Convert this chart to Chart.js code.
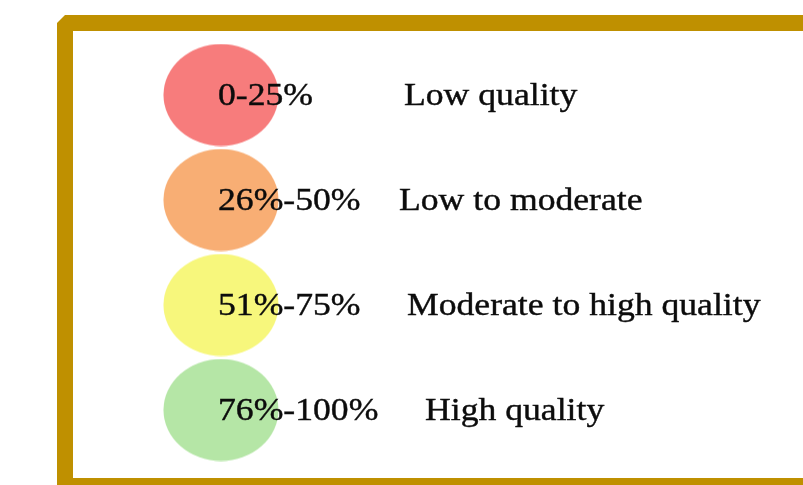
<!DOCTYPE html>
<html>
<head>
<meta charset="utf-8">
<script src="https://cdn.jsdelivr.net/npm/chart.js@4/dist/chart.umd.min.js"></script>
<style>
  html, body { margin: 0; padding: 0; background: #ffffff; }
  #wrap { width: 803px; height: 485px; position: relative; }
</style>
</head>
<body>
<div id="wrap"><canvas id="c" width="803" height="485"></canvas></div>
<script>
// ---- data ----
const ranges = ["0-25%", "26%-50%", "51%-75%", "76%-100%"];
const qualityLabels = ["Low quality", "Low to moderate", "Moderate to high quality", "High quality"];
const rowIndex = [0, 1, 2, 3];
const colors = ["#F77C7C", "#F8AE74", "#F7F77C", "#B5E6A6"];

// ---- layout constants (not data) ----
const ELL_W = 116, ELL_H = 103;
const FONT = '31px "Liberation Serif", "Times New Roman", serif';
const STRETCH = 1.15;
const RANGE_X = 218;
const QUAL_X = [404, 399, 407, 425];
const GOLD = "#BF9000";

function ellipseStyle(color) {
  const cv = document.createElement("canvas");
  cv.width = ELL_W; cv.height = ELL_H;
  const g = cv.getContext("2d");
  g.fillStyle = color;
  g.beginPath();
  g.ellipse(ELL_W / 2, ELL_H / 2, ELL_W / 2 - 0.5, ELL_H / 2 - 0.5, 0, 0, Math.PI * 2);
  g.fill();
  return cv;
}

const framePlugin = {
  id: "frame",
  beforeDraw(chart) {
    const ctx = chart.ctx;
    ctx.save();
    ctx.fillStyle = "#ffffff";
    ctx.fillRect(0, 0, chart.width, chart.height);
    ctx.strokeStyle = GOLD;
    ctx.lineWidth = 16;
    ctx.lineJoin = "bevel";
    ctx.beginPath();
    ctx.moveTo(830, 23);
    ctx.lineTo(65, 23);
    ctx.lineTo(65, 486);
    ctx.lineTo(830, 486);
    ctx.stroke();
    ctx.restore();
  }
};

const textPlugin = {
  id: "rowText",
  afterDatasetsDraw(chart) {
    const ctx = chart.ctx;
    const y = chart.scales.y;
    ctx.save();
    ctx.font = FONT;
    ctx.fillStyle = "#0c0c0c";
    ctx.strokeStyle = "#0c0c0c";
    ctx.lineWidth = 0.4;
    ctx.textBaseline = "alphabetic";
    rowIndex.forEach((r, i) => {
      const py = y.getPixelForValue(r) + 10;
      [[RANGE_X, ranges[i]], [QUAL_X[i], qualityLabels[i]]].forEach(([px, t]) => {
        ctx.save();
        ctx.translate(px, py);
        ctx.scale(STRETCH, 1);
        ctx.fillText(t, 0, 0);
        ctx.strokeText(t, 0, 0);
        ctx.restore();
      });
    });
    ctx.restore();
  }
};

new Chart(document.getElementById("c"), {
  type: "scatter",
  data: {
    datasets: [{
      label: "Quality",
      data: rowIndex.map(r => ({ x: 0, y: r })),
      backgroundColor: colors,
      pointStyle: colors.map(ellipseStyle),
      pointRadius: 50,
      pointHoverRadius: 50,
      clip: false
    }]
  },
  options: {
    responsive: false,
    animation: false,
    events: [],
    layout: { padding: 0, autoPadding: false },
    plugins: { legend: { display: false }, tooltip: { enabled: false } },
    scales: {
      x: { type: "linear", min: -221, max: 582, display: false },
      y: { type: "linear", reverse: true, min: -95 / 105, max: (485 - 95) / 105, display: false }
    }
  },
  plugins: [framePlugin, textPlugin]
});
</script>
</body>
</html>
